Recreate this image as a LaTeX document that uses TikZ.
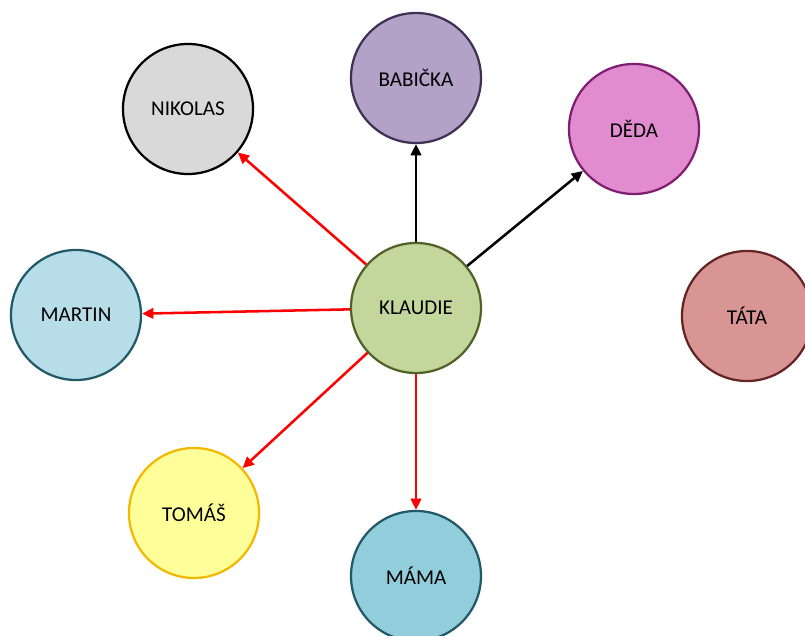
\documentclass[tikz,border=0pt]{standalone}
\usepackage{fontspec}
\setmainfont{Carlito}
\usetikzlibrary{arrows.meta}

\definecolor{nikfill}{HTML}{D9D9D9}
\definecolor{babfill}{HTML}{B3A2C7}
\definecolor{babline}{HTML}{3F3151}
\definecolor{dedfill}{HTML}{E08CCF}
\definecolor{dedline}{HTML}{7F1F72}
\definecolor{marfill}{HTML}{B7DEE8}
\definecolor{marline}{HTML}{215968}
\definecolor{klafill}{HTML}{C3D69B}
\definecolor{klaline}{HTML}{4F6228}
\definecolor{tatfill}{HTML}{D99594}
\definecolor{tatline}{HTML}{632523}
\definecolor{tomfill}{HTML}{FFFF99}
\definecolor{tomline}{HTML}{F5B800}
\definecolor{mamfill}{HTML}{92CDDC}
\definecolor{mamline}{HTML}{215968}

\begin{document}
\begin{tikzpicture}[x=0.025cm,y=-0.025cm,
  person/.style={circle, line width=1.6pt, minimum size=3.25cm, inner sep=0pt, font=\fontsize{15}{17}\selectfont},
  link/.style={line width=1.8pt, -{Triangle[length=8pt,width=7.5pt]}}]
  \useasboundingbox (0,0) rectangle (805,636);

  \coordinate (K) at (416,308);
  \coordinate (N) at (188,109);
  \coordinate (B) at (416,78);
  \coordinate (D) at (634,129);
  \coordinate (M) at (76,315);
  \coordinate (T) at (747,316);
  \coordinate (O) at (194,513);
  \coordinate (A) at (416,576);

  % Circles
  \node[person, draw=black, fill=nikfill] (nikolas) at (N) {NIKOLAS};
  \node[person, draw=babline, fill=babfill] (babicka) at (B) {BABIČKA};
  \node[person, draw=dedline, fill=dedfill] (deda) at (D) {DĚDA};
  \node[person, draw=marline, fill=marfill] (martin) at (M) {MARTIN};
  \node[person, draw=klaline, fill=klafill] (klaudie) at (K) {KLAUDIE};
  \node[person, draw=tatline, fill=tatfill] (tata) at (T) {TÁTA};
  \node[person, draw=tomline, fill=tomfill] (tomas) at (O) {TOMÁŠ};
  \node[person, draw=mamline, fill=mamfill] (mama) at (A) {MÁMA};

  % Arrows
  \draw[link, black] (klaudie) -- (babicka);
  \draw[link, black] (klaudie) -- (deda);
  \draw[link, red] (klaudie) -- (nikolas);
  \draw[link, red] (klaudie) -- (martin);
  \draw[link, red] (klaudie) -- (tomas);
  \draw[link, red] (klaudie) -- (mama);
\end{tikzpicture}
\end{document}
